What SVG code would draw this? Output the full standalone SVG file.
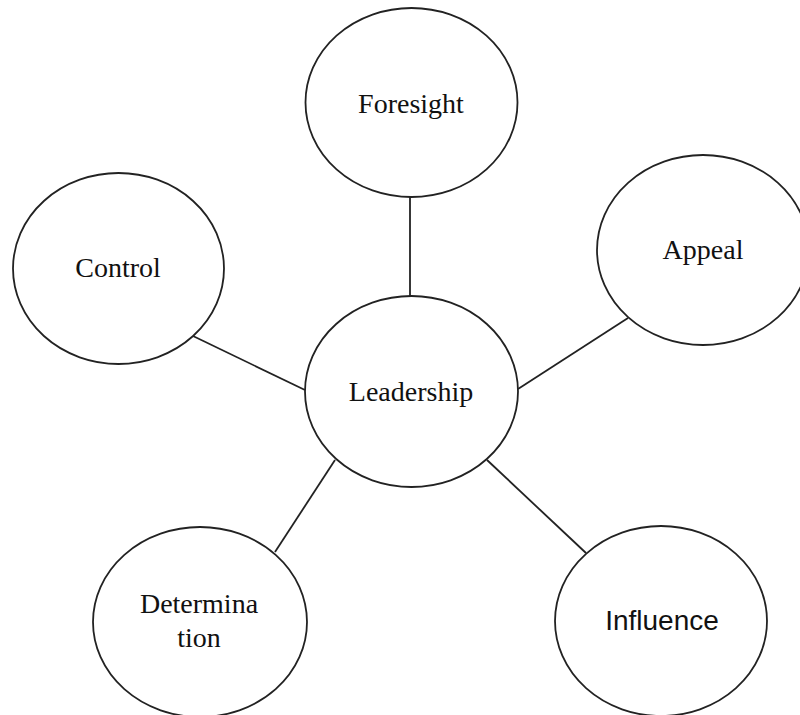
<svg xmlns="http://www.w3.org/2000/svg" width="800" height="715" viewBox="0 0 800 715">
<style>
.n{fill:#fff;stroke:#222;stroke-width:1.8}
.t{font-family:"Liberation Serif","Times New Roman",serif;font-size:28px;fill:#111;text-anchor:middle}
.s{font-family:"Liberation Sans",Arial,sans-serif;font-size:28px;fill:#111;text-anchor:middle}
.c{stroke:#222;stroke-width:1.8;fill:none}
</style>
<rect width="800" height="715" fill="#fff"/>
<g id="connectors">
<line class="c" x1="410" y1="197" x2="410" y2="296"/>
<line class="c" x1="193" y1="336" x2="305" y2="390"/>
<line class="c" x1="628" y1="318" x2="518" y2="389"/>
<line class="c" x1="335" y1="460" x2="275" y2="552"/>
<line class="c" x1="487" y1="460" x2="586" y2="553"/>
</g>
<g id="foresight"><ellipse class="n" cx="411.5" cy="102.5" rx="106" ry="94.5"/><text class="t" x="411" y="113">Foresight</text></g>
<g id="appeal"><ellipse class="n" cx="703" cy="250" rx="106" ry="95"/><text class="t" x="703" y="259">Appeal</text></g>
<g id="control"><ellipse class="n" cx="118.5" cy="268.5" rx="105.5" ry="95.5"/><text class="t" x="118" y="277">Control</text></g>
<g id="leadership"><ellipse class="n" cx="411.5" cy="391.5" rx="106.5" ry="95.5"/><text class="t" x="411" y="401">Leadership</text></g>
<g id="determination"><ellipse class="n" cx="200" cy="622" rx="107" ry="95"/><text class="t" x="199" y="613">Determina</text><text class="t" x="199" y="647">tion</text></g>
<g id="influence"><ellipse class="n" cx="661" cy="621" rx="106" ry="95"/><text class="s" x="662" y="630">Influence</text></g>
</svg>
